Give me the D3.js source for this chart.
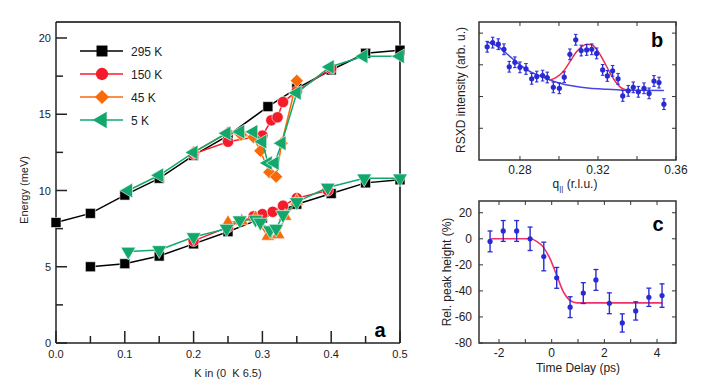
<!DOCTYPE html>
<html>
<head>
<meta charset="utf-8">
<script src="https://cdn.jsdelivr.net/npm/d3@7"></script>
<style>
	body { margin: 0; background: #fff; }
	svg { display: block; font-family: "Liberation Sans", Arial, sans-serif; }
</style>
</head>
<body>
<div id="chart"></div>
<script>
// ---- panel a : dispersion, energy (meV) vs K ----
var k295Up = [0, 0.05, 0.1, 0.15, 0.2, 0.25, 0.308, 0.35, 0.4, 0.45, 0.5]
var e295Up = [7.9, 8.5, 9.7, 10.8, 12.3, 13.6, 15.5, 16.7, 17.9, 19.0, 19.2]
var k295Lo = [0.05, 0.1, 0.15, 0.2, 0.25, 0.3, 0.35, 0.4, 0.45, 0.5]
var e295Lo = [5.0, 5.2, 5.7, 6.5, 7.3, 8.2, 9.1, 9.8, 10.5, 10.7]

var k150Up = [0.2, 0.25, 0.3, 0.313, 0.322, 0.33, 0.35, 0.4]
var e150Up = [12.4, 13.2, 13.6, 14.6, 14.8, 15.8, 16.5, 18.0]
var k150Lo = [0.2, 0.25, 0.287, 0.3, 0.315, 0.33, 0.35, 0.395]
var e150Lo = [6.7, 7.6, 8.3, 8.45, 8.6, 9.0, 9.5, 10.0]

var k45Up = [0.2, 0.25, 0.269, 0.287, 0.297, 0.31, 0.32, 0.328, 0.35]
var e45Up = [12.5, 13.8, 13.65, 13.5, 12.6, 11.2, 10.9, 13.1, 17.2]
var k45Lo = [0.25, 0.27, 0.29, 0.308, 0.323, 0.333, 0.35]
var e45Lo = [7.9, 8.0, 8.2, 7.0, 7.1, 8.3, 9.3]

var k5Up = [0.105, 0.15, 0.2, 0.248, 0.268, 0.287, 0.3, 0.308, 0.318, 0.328, 0.35, 0.398, 0.447, 0.5]
var e5Up = [10.0, 11.0, 12.5, 13.75, 13.85, 13.85, 13.2, 11.8, 11.8, 13.1, 16.4, 18.1, 18.8, 18.8]
var k5Lo = [0.105, 0.15, 0.2, 0.248, 0.267, 0.29, 0.297, 0.311, 0.32, 0.33, 0.35, 0.395, 0.448, 0.5]
var e5Lo = [6.0, 6.1, 6.95, 7.5, 8.05, 8.1, 7.9, 7.4, 7.5, 8.4, 9.25, 10.2, 10.8, 10.8]

var legendLabels = ["295 K", "150 K", "45 K", "5 K"]
var aTicksX = [0, 0.1, 0.2, 0.3, 0.4, 0.5]
var aTicksY = [0, 5, 10, 15, 20]

// ---- panel b : RSXD scan ----
var qB = [0.2632, 0.266, 0.2689, 0.2718, 0.2745, 0.2774, 0.28, 0.2831, 0.286, 0.2886, 0.2916, 0.294, 0.2971, 0.3002, 0.3027, 0.3056, 0.3086, 0.3114, 0.3142, 0.3168, 0.3193, 0.3224, 0.3248, 0.3275, 0.3303, 0.3327, 0.3355, 0.3381, 0.3407, 0.3436, 0.3462, 0.3487, 0.3513, 0.3538]
var iB = [3.57, 3.70, 3.65, 3.49, 2.94, 3.08, 2.92, 2.87, 2.56, 2.63, 2.66, 2.60, 2.29, 2.26, 2.61, 3.33, 3.79, 3.45, 3.47, 3.49, 3.36, 2.84, 2.65, 2.81, 2.56, 2.02, 2.18, 2.29, 2.15, 2.26, 2.10, 2.49, 2.44, 1.76]
var errB = 0.17
var qBg = [0.2629, 0.2689, 0.2749, 0.28, 0.2851, 0.2903, 0.2954, 0.3005, 0.3073, 0.3159, 0.3245, 0.3347, 0.3538]
var vBg = [3.73, 3.57, 3.26, 3.0, 2.79, 2.65, 2.52, 2.42, 2.33, 2.26, 2.23, 2.20, 2.19]
var qPk = [0.2954, 0.2988, 0.3022, 0.3056, 0.3091, 0.3116, 0.3142, 0.3168, 0.3193, 0.3227, 0.3262, 0.3296, 0.333, 0.3364]
var vPk = [2.52, 2.61, 2.79, 3.10, 3.42, 3.57, 3.65, 3.63, 3.49, 3.15, 2.74, 2.42, 2.24, 2.20]
var bTicksX = [0.28, 0.30, 0.32, 0.34, 0.36]
var bLabelsX = [0.28, 0.32, 0.36]
var bTicksY = [1, 2, 3, 4]

// ---- panel c : peak height vs delay ----
var tC = [-2.34, -1.84, -1.33, -0.82, -0.30, 0.19, 0.70, 1.20, 1.68, 2.19, 2.68, 3.19, 3.69, 4.19]
var hC = [-2, 6, 6, 0, -13.6, -30, -52.5, -41.7, -31.6, -49.5, -64.6, -55.4, -44.9, -43.6]
var eC = [8, 8, 8, 9, 11, 8, 8, 8, 8, 8, 7, 7, 7, 9]
var tFit = [-2.3, -0.8, -0.57, -0.32, -0.06, 0.19, 0.45, 0.70, 0.96, 4.2]
var hFit = [0, 0, -2, -6.4, -15.4, -28, -41, -47.4, -49.2, -49.2]
var cTicksX = [-2, -1, 0, 1, 2, 3, 4]
var cLabelsX = [-2, 0, 2, 4]
var cTicksY = [-80, -60, -40, -20, 0, 20]

var svg = d3.select("#chart").append("svg")
	.attr("width", 706)
	.attr("height", 392)

drawA()
drawB()
drawC()

function drawA() {
	var x = d3.scaleLinear().domain([0, 0.5]).range([56, 400])
	var y = d3.scaleLinear().domain([0, 20]).range([343, 38])
	var g = svg.append("g")

	// frame
	g.append("line").attr("x1", 56).attr("x2", 400).attr("y1", 22).attr("y2", 22).attr("stroke", "#444").attr("stroke-width", 2)
	g.append("line").attr("x1", 400).attr("x2", 400).attr("y1", 22).attr("y2", 343).attr("stroke", "#444").attr("stroke-width", 2)

	// inward ticks, major + minor
	g.selectAll(".tk-x").data(d3.range(0, 11)).enter().append("line")
		.attr("x1", d => x(d * 0.05)).attr("x2", d => x(d * 0.05))
		.attr("y1", 343).attr("y2", d => d % 2 == 0 ? 331 : 336)
		.attr("stroke", "#222").attr("stroke-width", 1.5)
	g.selectAll(".tk-y").data(d3.range(0, 9)).enter().append("line")
		.attr("y1", d => y(d * 2.5)).attr("y2", d => y(d * 2.5))
		.attr("x1", 56).attr("x2", d => d % 2 == 0 ? 67 : 63)
		.attr("stroke", "#222").attr("stroke-width", 1.5)
	g.append("line").attr("x1", 56).attr("x2", 400).attr("y1", 343).attr("y2", 343).attr("stroke", "#222").attr("stroke-width", 1.5)
	g.append("line").attr("x1", 56).attr("x2", 56).attr("y1", 22).attr("y2", 343).attr("stroke", "#222").attr("stroke-width", 1.5)

	g.selectAll(".lx").data(aTicksX).enter().append("text")
		.attr("x", d => x(d)).attr("y", 358)
		.attr("text-anchor", "middle").attr("font-size", 11).attr("fill", "#222")
		.text(d => d.toFixed(1))
	g.selectAll(".ly").data(aTicksY).enter().append("text")
		.attr("x", 51).attr("y", d => y(d) + 4)
		.attr("text-anchor", "end").attr("font-size", 11).attr("fill", "#222")
		.text(d => d)

	g.append("text").attr("transform", "translate(28,190) rotate(-90)")
		.attr("text-anchor", "middle").attr("font-size", 11).attr("fill", "#222")
		.text("Energy (meV)")
	g.append("text").attr("x", 228).attr("y", 377)
		.attr("text-anchor", "middle").attr("font-size", 11).attr("fill", "#222")
		.attr("xml:space", "preserve")
		.text("K in (0  K 6.5)")

	var series = [
		{ k: k295Up, e: e295Up, color: "#000000", type: d3.symbolSquare, size: 100, rot: 0 },
		{ k: k295Lo, e: e295Lo, color: "#000000", type: d3.symbolSquare, size: 100, rot: 0 },
		{ k: k150Up, e: e150Up, color: "#f41c2a", type: d3.symbolCircle, size: 100, rot: 0 },
		{ k: k150Lo, e: e150Lo, color: "#f41c2a", type: d3.symbolCircle, size: 100, rot: 0 },
		{ k: k45Up, e: e45Up, color: "#fa6a0a", type: d3.symbolSquare, size: 85, rot: 45 },
		{ k: k45Lo, e: e45Lo, color: "#fa6a0a", type: d3.symbolTriangle, size: 80, rot: 0 },
		{ k: k5Up, e: e5Up, color: "#12a86c", type: d3.symbolTriangle, size: 95, rot: -90 },
		{ k: k5Lo, e: e5Lo, color: "#12a86c", type: d3.symbolTriangle, size: 95, rot: 180 }
	]

	var line = d3.line().x(d => x(d[0])).y(d => y(d[1]))
	series.forEach(s => {
		var pts = s.k.map((k, i) => [k, s.e[i]])
		g.append("path").datum(pts).attr("d", line)
			.attr("fill", "none").attr("stroke", s.color).attr("stroke-width", 1.5)
		g.selectAll(null).data(pts).enter().append("path")
			.attr("d", d3.symbol().type(s.type).size(s.size))
			.attr("transform", d => "translate(" + x(d[0]) + "," + y(d[1]) + ") rotate(" + s.rot + ")")
			.attr("fill", s.color).attr("stroke", "#fff").attr("stroke-width", 0.6)
	})

	// legend
	var legColors = ["#000000", "#f41c2a", "#fa6a0a", "#12a86c"]
	var legTypes = [d3.symbolSquare, d3.symbolCircle, d3.symbolSquare, d3.symbolTriangle]
	var legSizes = [120, 120, 100, 115]
	var legRot = [0, 0, 45, -90]
	var legY = [51, 74, 97, 120]
	legendLabels.forEach((lab, i) => {
		g.append("line").attr("x1", 80).attr("x2", 123).attr("y1", legY[i]).attr("y2", legY[i])
			.attr("stroke", legColors[i]).attr("stroke-width", 1.5)
		g.append("path").attr("d", d3.symbol().type(legTypes[i]).size(legSizes[i])())
			.attr("transform", "translate(102," + legY[i] + ") rotate(" + legRot[i] + ")")
			.attr("fill", legColors[i])
		g.append("text").attr("x", 131).attr("y", legY[i] + 4.5)
			.attr("font-size", 12).attr("fill", "#222").text(lab)
	})

	g.append("text").attr("x", 380).attr("y", 337).attr("text-anchor", "middle")
		.attr("font-size", 20).attr("font-weight", "bold").text("a")
}

function frame(g, x0, x1, y0, y1) {
	g.append("rect").attr("x", x0).attr("y", y0).attr("width", x1 - x0).attr("height", y1 - y0)
		.attr("fill", "none").attr("stroke", "#333").attr("stroke-width", 1.5)
}

function drawB() {
	var x = d3.scaleLinear().domain([0.259, 0.36]).range([479, 676])
	var y = d3.scaleLinear().domain([0, 4.35]).range([160, 22])
	var g = svg.append("g")
	frame(g, 479, 676, 22, 160)

	bTicksX.forEach(t => {
		g.append("line").attr("x1", x(t)).attr("x2", x(t)).attr("y1", 160).attr("y2", 156).attr("stroke", "#333")
		g.append("line").attr("x1", x(t)).attr("x2", x(t)).attr("y1", 22).attr("y2", 26).attr("stroke", "#333")
	})
	bTicksY.forEach(t => {
		g.append("line").attr("x1", 479).attr("x2", 483).attr("y1", y(t)).attr("y2", y(t)).attr("stroke", "#333")
		g.append("line").attr("x1", 676).attr("x2", 672).attr("y1", y(t)).attr("y2", y(t)).attr("stroke", "#333")
	})
	g.selectAll(null).data(bLabelsX).enter().append("text")
		.attr("x", d => x(d)).attr("y", 174).attr("text-anchor", "middle")
		.attr("font-size", 12).attr("fill", "#222").text(d => d.toFixed(2))

	var ql = g.append("text").attr("x", 575).attr("y", 188).attr("text-anchor", "middle")
		.attr("font-size", 12).attr("fill", "#222")
	ql.append("tspan").text("q")
	ql.append("tspan").attr("font-size", 8).attr("dy", 3).text("||")
	ql.append("tspan").attr("dy", -3).text(" (r.l.u.)")

	g.append("text").attr("transform", "translate(465,90) rotate(-90)")
		.attr("text-anchor", "middle").attr("font-size", 12).attr("fill", "#222")
		.text("RSXD intensity (arb. u.)")

	var line = d3.line().x(d => x(d[0])).y(d => y(d[1])).curve(d3.curveMonotoneX)
	g.append("path").datum(qBg.map((q, i) => [q, vBg[i]])).attr("d", line)
		.attr("fill", "none").attr("stroke", "#4646e6").attr("stroke-width", 1.5)
	g.append("path").datum(qPk.map((q, i) => [q, vPk[i]])).attr("d", line)
		.attr("fill", "none").attr("stroke", "#f0284e").attr("stroke-width", 1.5)

	var pts = qB.map((q, i) => [q, iB[i]])
	var pg = g.selectAll(null).data(pts).enter().append("g")
	pg.append("line").attr("x1", d => x(d[0])).attr("x2", d => x(d[0]))
		.attr("y1", d => y(d[1] - errB)).attr("y2", d => y(d[1] + errB))
		.attr("stroke", "#2a2ad2").attr("stroke-width", 1.3)
	pg.append("line").attr("x1", d => x(d[0]) - 1.8).attr("x2", d => x(d[0]) + 1.8)
		.attr("y1", d => y(d[1] - errB)).attr("y2", d => y(d[1] - errB)).attr("stroke", "#2a2ad2")
	pg.append("line").attr("x1", d => x(d[0]) - 1.8).attr("x2", d => x(d[0]) + 1.8)
		.attr("y1", d => y(d[1] + errB)).attr("y2", d => y(d[1] + errB)).attr("stroke", "#2a2ad2")
	pg.append("circle").attr("cx", d => x(d[0])).attr("cy", d => y(d[1])).attr("r", 2.6)
		.attr("fill", "#2a2ad2")

	g.append("text").attr("x", 657).attr("y", 47).attr("text-anchor", "middle")
		.attr("font-size", 20).attr("font-weight", "bold").text("b")
}

function drawC() {
	var x = d3.scaleLinear().domain([-2.76, 4.72]).range([479, 676])
	var y = d3.scaleLinear().domain([-80, 29]).range([343, 201])
	var g = svg.append("g")
	frame(g, 479, 676, 201, 343)

	cTicksX.forEach(t => {
		g.append("line").attr("x1", x(t)).attr("x2", x(t)).attr("y1", 343).attr("y2", 339).attr("stroke", "#333")
		g.append("line").attr("x1", x(t)).attr("x2", x(t)).attr("y1", 201).attr("y2", 205).attr("stroke", "#333")
	})
	cTicksY.forEach(t => {
		g.append("line").attr("x1", 479).attr("x2", 483).attr("y1", y(t)).attr("y2", y(t)).attr("stroke", "#333")
		g.append("line").attr("x1", 676).attr("x2", 672).attr("y1", y(t)).attr("y2", y(t)).attr("stroke", "#333")
	})
	g.selectAll(null).data(cLabelsX).enter().append("text")
		.attr("x", d => x(d)).attr("y", 357).attr("text-anchor", "middle")
		.attr("font-size", 12).attr("fill", "#222").text(d => d)
	g.selectAll(null).data(cTicksY).enter().append("text")
		.attr("x", 472).attr("y", d => y(d) + 4).attr("text-anchor", "end")
		.attr("font-size", 12).attr("fill", "#222").text(d => d)

	g.append("text").attr("x", 578).attr("y", 372).attr("text-anchor", "middle")
		.attr("font-size", 12).attr("fill", "#222").text("Time Delay (ps)")
	g.append("text").attr("transform", "translate(451,272) rotate(-90)")
		.attr("text-anchor", "middle").attr("font-size", 12).attr("fill", "#222")
		.text("Rel. peak height (%)")

	var line = d3.line().x(d => x(d[0])).y(d => y(d[1])).curve(d3.curveMonotoneX)
	g.append("path").datum(tFit.map((t, i) => [t, hFit[i]])).attr("d", line)
		.attr("fill", "none").attr("stroke", "#f0306a").attr("stroke-width", 1.6)

	var pts = tC.map((t, i) => [t, hC[i], eC[i]])
	var pg = g.selectAll(null).data(pts).enter().append("g")
	pg.append("line").attr("x1", d => x(d[0])).attr("x2", d => x(d[0]))
		.attr("y1", d => y(d[1] - d[2])).attr("y2", d => y(d[1] + d[2]))
		.attr("stroke", "#2a2ad2").attr("stroke-width", 1.4)
	pg.append("line").attr("x1", d => x(d[0]) - 2.5).attr("x2", d => x(d[0]) + 2.5)
		.attr("y1", d => y(d[1] - d[2])).attr("y2", d => y(d[1] - d[2])).attr("stroke", "#2a2ad2").attr("stroke-width", 1.3)
	pg.append("line").attr("x1", d => x(d[0]) - 2.5).attr("x2", d => x(d[0]) + 2.5)
		.attr("y1", d => y(d[1] + d[2])).attr("y2", d => y(d[1] + d[2])).attr("stroke", "#2a2ad2").attr("stroke-width", 1.3)
	pg.append("circle").attr("cx", d => x(d[0])).attr("cy", d => y(d[1])).attr("r", 2.6)
		.attr("fill", "#2a2ad2")

	g.append("text").attr("x", 658).attr("y", 231).attr("text-anchor", "middle")
		.attr("font-size", 20).attr("font-weight", "bold").text("c")
}
</script>
</body>
</html>
